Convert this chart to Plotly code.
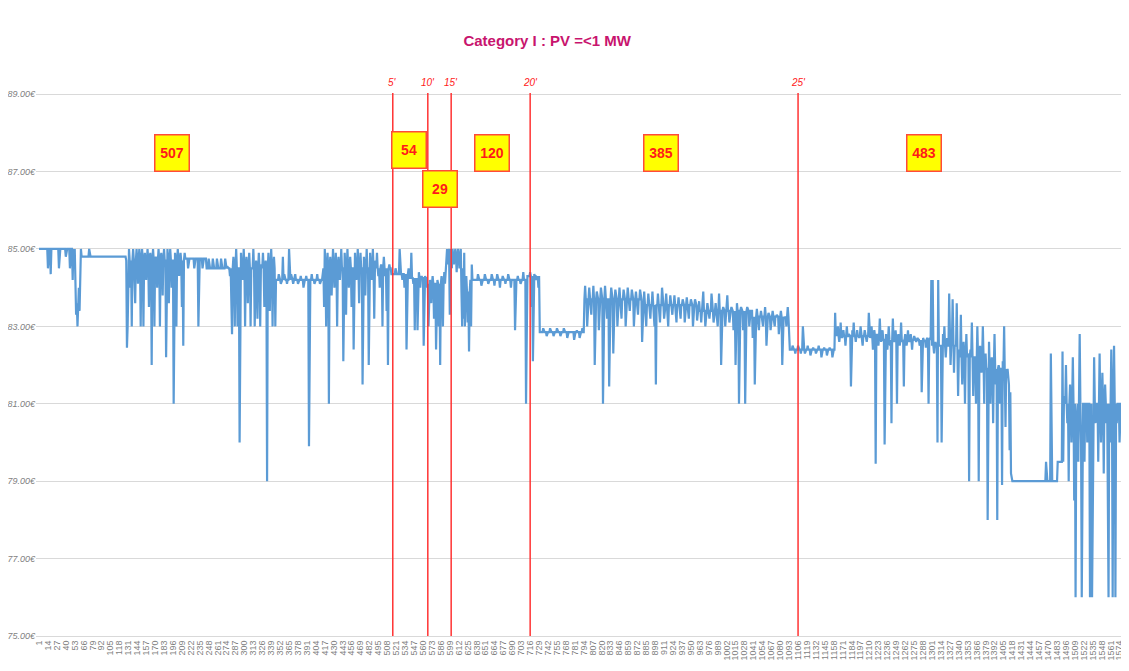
import plotly.graph_objects as go

# ── Data ────────────────────────────────────────────────────
N_POINTS = 1578

# flat levels of the price curve: (first index, level)
BASE_START = [1, 63, 128, 213, 245, 279, 346, 414, 514, 540, 566, 594, 616, 632,
              712, 730, 795, 880, 960, 1040, 1093, 1160, 1230, 1300, 1340, 1380,
              1413, 1417, 1484, 1491]
BASE_LEVEL = [85.0, 84.8, 84.7, 84.75, 84.5, 84.5, 84.2, 84.5, 84.35, 84.25, 84.1,
              84.8, 83.9, 84.2, 84.3, 82.85, 83.7, 83.55, 83.4, 83.25, 82.4, 82.75,
              82.65, 82.5, 82.2, 81.9, 81.2, 79.0, 79.5, 81.0]

# single-point deviations from the level: (index, price)
SPIKES_0_5 = [
    (14, 84.5), (18, 84.35), (30, 84.5), (40, 84.8), (46, 84.5), (50, 84.2), (52, 84.6),
    (54, 83.9), (55, 83.3), (56, 83.6), (57, 83.0), (58, 83.5), (59, 84.0), (60, 83.4),
    (61, 84.5), (62, 85.0), (74, 85.0),
    (129, 82.45), (130, 83.0), (132, 85.0), (134, 84.0), (136, 83.0), (138, 85.0),
    (140, 84.2), (141, 83.6), (143, 85.0), (145, 84.1), (147, 85.0), (149, 83.0),
    (151, 85.0), (153, 83.0), (155, 84.9), (157, 84.2), (159, 85.0), (161, 83.5),
    (163, 84.9), (165, 82.0), (167, 85.0), (169, 83.0), (171, 84.8), (173, 84.0),
    (175, 85.0), (177, 83.0), (179, 84.9), (181, 83.8), (183, 85.0), (186, 82.2),
    (188, 85.0), (190, 83.6), (192, 85.0), (194, 84.0), (197, 81.0), (199, 84.9),
    (201, 83.0), (203, 85.0), (205, 84.3), (207, 84.9), (209, 83.5), (211, 82.5),
    (213, 84.9),
    (215, 84.75), (218, 84.5), (221, 84.75), (224, 84.75), (227, 84.5), (230, 84.75),
    (233, 83.0), (236, 84.75), (239, 84.5), (242, 84.75), (245, 84.5), (248, 84.75),
    (251, 84.5), (254, 84.75), (257, 84.5), (260, 84.75), (263, 84.5), (266, 84.75),
    (269, 84.5), (272, 84.75), (275, 84.55),
    (279, 84.3), (281, 83.0), (282, 82.8), (284, 84.8), (286, 83.0), (288, 85.0),
    (290, 83.0), (292, 84.5), (293, 80.0), (295, 84.9), (297, 84.2), (299, 85.0),
    (301, 83.0), (303, 84.8), (305, 83.6), (307, 84.9), (309, 83.0), (311, 84.5),
    (313, 85.0), (315, 83.0), (317, 84.7), (319, 83.2), (321, 84.9), (323, 83.0),
    (325, 84.6), (327, 84.9), (329, 83.5), (331, 84.7), (333, 79.0), (335, 84.9),
    (337, 83.4), (339, 85.0), (341, 83.0), (343, 84.8), (345, 83.0),
    (350, 84.35), (353, 84.1), (356, 84.8), (358, 84.35), (362, 84.1), (365, 85.0),
    (368, 84.35), (371, 84.1), (374, 84.35), (378, 84.1), (382, 84.3), (386, 84.0),
    (390, 84.3), (394, 79.9), (398, 84.35), (402, 84.1), (406, 84.35), (410, 84.1),
    (414, 84.4), (416, 83.5), (417, 85.0), (419, 83.0), (421, 84.9), (423, 81.0),
    (425, 84.8), (427, 83.8), (429, 85.0), (431, 84.0), (433, 84.9), (435, 83.0),
    (437, 84.8), (439, 84.2), (441, 85.0), (444, 82.1), (446, 84.9), (448, 83.3),
    (450, 85.0), (452, 84.0), (454, 84.8), (456, 83.5), (459, 82.4), (461, 84.9),
    (463, 84.2), (465, 85.0), (467, 83.6), (469, 84.9), (472, 81.5), (474, 84.8),
    (476, 83.8), (478, 85.0), (481, 82.0), (483, 84.9), (485, 84.2), (487, 85.0),
    (489, 83.2), (491, 84.7), (493, 84.9), (495, 84.3), (497, 84.0), (499, 84.6),
    (501, 83.0), (503, 84.8), (505, 84.3), (507, 83.4), (509, 82.0), (511, 84.6),
]
SPIKES_5_10 = [
    (520, 84.5), (526, 85.0), (530, 84.2), (533, 84.0), (536, 82.4), (539, 84.5),
    (543, 84.9), (546, 84.1), (548, 82.9), (550, 83.8), (552, 82.9), (554, 84.4),
    (556, 84.0), (558, 84.3), (561, 82.5), (563, 84.3),
]
SPIKES_10_15 = [
    (566, 84.0), (568, 83.0), (570, 84.2), (572, 83.6), (574, 84.3), (576, 83.2),
    (579, 82.4), (581, 84.2), (583, 83.0), (585, 82.0), (587, 84.3), (589, 83.0),
    (591, 84.4), (593, 84.5), (595, 85.0), (596, 84.6), (597, 85.0), (599, 83.3),
]
SPIKES_15_20 = [
    (600, 85.0), (602, 84.5), (603, 85.0), (605, 84.6), (607, 85.0), (609, 84.4),
    (611, 85.0), (613, 84.5), (615, 85.0), (617, 83.0), (618, 84.5), (619, 83.2),
    (620, 84.9), (621, 83.0), (623, 84.3), (625, 83.1), (627, 82.35), (629, 84.2),
    (630, 83.0), (631, 84.6),
    (640, 84.35), (645, 84.05), (650, 84.35), (655, 84.1), (660, 84.35), (664, 84.05),
    (668, 84.35), (672, 84.0), (676, 84.3), (680, 84.1), (684, 84.35), (688, 84.0),
    (694, 82.9), (698, 84.3), (702, 84.1), (706, 84.4), (710, 81.0),
]
SPIKES_20_25 = [
    (716, 84.4), (718, 83.5), (720, 82.1), (722, 84.35), (725, 84.2), (728, 84.0),
    (735, 82.95), (740, 82.75), (745, 82.95), (750, 82.75), (755, 82.95), (760, 82.75),
    (765, 82.95), (770, 82.7), (775, 82.85), (780, 82.65), (784, 82.9), (788, 82.7),
    (792, 82.95),
    (796, 84.05), (799, 83.0), (802, 84.0), (805, 83.3), (808, 84.05), (810, 82.0),
    (813, 83.9), (816, 82.9), (819, 84.0), (822, 81.0), (825, 84.05), (828, 83.2),
    (831, 81.45), (834, 84.0), (837, 82.3), (840, 83.95), (843, 83.0), (846, 84.0),
    (849, 83.2), (852, 83.95), (855, 83.0), (858, 84.0), (861, 83.4), (864, 83.95),
    (867, 83.0), (870, 83.9), (873, 83.3), (876, 83.95), (879, 82.6), (882, 83.9),
    (885, 83.0), (888, 83.85), (891, 83.2), (894, 83.9), (897, 83.0), (899, 81.5),
    (902, 83.85), (905, 83.1), (908, 84.0), (911, 83.2), (914, 83.85), (917, 83.0),
    (920, 83.8), (923, 83.3), (926, 83.8), (929, 83.1), (932, 83.75), (935, 83.2),
    (938, 83.7), (941, 83.1), (944, 83.75), (947, 83.2), (950, 83.7), (953, 83.0),
    (956, 83.7), (959, 83.15), (962, 83.65), (965, 83.1), (968, 83.9), (971, 83.0),
    (974, 83.6), (977, 83.2), (980, 83.85), (983, 83.1), (986, 83.6), (989, 83.0),
    (991, 83.85), (994, 82.0), (997, 83.5), (1000, 83.0), (1003, 83.8), (1006, 83.1),
    (1009, 83.5), (1012, 82.9), (1015, 82.0), (1017, 83.6), (1020, 81.0), (1023, 83.5),
    (1026, 82.9), (1029, 81.0), (1032, 83.5), (1035, 83.0), (1038, 83.4), (1040, 82.7),
    (1043, 81.5), (1046, 83.45), (1049, 82.9), (1052, 83.4), (1055, 83.0), (1058, 83.5),
    (1060, 82.5), (1063, 83.35), (1066, 82.9), (1069, 83.4), (1072, 83.0), (1075, 83.3),
    (1078, 82.8), (1081, 83.4), (1083, 82.0), (1086, 83.2), (1089, 83.0), (1091, 83.5),
    (1098, 82.5), (1102, 82.3),
]
SPIKES_25_END = [
    (1106, 82.5), (1110, 82.3), (1113, 83.0), (1116, 82.3), (1120, 82.5), (1124, 82.25),
    (1128, 82.45), (1132, 82.3), (1136, 82.5), (1140, 82.2), (1144, 82.45), (1148, 82.25),
    (1152, 82.45), (1156, 82.2),
    (1160, 83.35), (1162, 82.9), (1164, 83.0), (1166, 82.6), (1168, 83.1), (1170, 82.7),
    (1172, 82.9), (1175, 82.5), (1177, 83.0), (1180, 82.8), (1183, 81.45), (1185, 82.9),
    (1187, 83.1), (1190, 82.6), (1192, 82.9), (1195, 82.7), (1197, 83.0), (1200, 82.5),
    (1203, 82.9), (1206, 82.6), (1209, 83.35), (1211, 82.7), (1213, 83.0), (1215, 82.4),
    (1217, 82.9), (1219, 79.45), (1221, 82.8), (1223, 82.5), (1225, 83.2), (1227, 82.6),
    (1229, 82.9), (1232, 79.95), (1234, 82.8), (1236, 82.4), (1238, 83.0), (1240, 82.5),
    (1242, 80.5), (1244, 83.2), (1246, 82.6), (1248, 82.9), (1250, 81.0), (1252, 82.8),
    (1254, 82.5), (1256, 83.1), (1258, 82.6), (1260, 81.45), (1262, 82.8), (1264, 82.5),
    (1266, 82.9), (1268, 82.6), (1270, 82.8), (1272, 82.4), (1275, 82.75), (1278, 82.6),
    (1280, 82.7), (1283, 82.5), (1286, 81.3), (1288, 82.7), (1290, 82.6), (1292, 82.45),
    (1294, 82.7), (1296, 81.0), (1298, 82.7),
    (1300, 84.2), (1301, 82.5), (1302, 84.2), (1304, 82.3), (1306, 82.6), (1309, 80.0),
    (1310, 84.2), (1312, 82.5), (1315, 80.0), (1317, 82.8), (1319, 83.0), (1321, 82.2),
    (1323, 82.7), (1326, 83.85), (1328, 82.0), (1330, 82.6), (1331, 83.7), (1333, 81.8),
    (1335, 82.5), (1337, 83.6), (1339, 81.2), (1341, 82.4), (1343, 83.3), (1345, 81.5),
    (1347, 82.6), (1349, 81.0), (1351, 82.8), (1353, 82.3), (1355, 79.0), (1357, 82.4),
    (1359, 83.1), (1361, 81.2), (1363, 82.2), (1365, 81.0), (1367, 83.0), (1369, 79.0),
    (1371, 82.5), (1373, 81.8), (1375, 83.0), (1377, 81.0), (1379, 82.3), (1382, 78.0),
    (1384, 82.6), (1386, 81.0), (1388, 82.2), (1390, 80.5), (1392, 82.8), (1394, 81.5),
    (1396, 78.0), (1398, 82.0), (1400, 81.0), (1403, 78.9), (1404, 82.1), (1406, 83.0),
    (1408, 80.4), (1410, 81.8), (1412, 81.5),
    (1413, 81.5), (1414, 79.8), (1415, 81.3), (1416, 79.2),
    (1467, 79.5), (1474, 82.3), (1475, 79.0), (1491, 82.35),
    (1492, 79.5), (1494, 81.2), (1496, 82.0), (1498, 80.5), (1500, 79.0), (1502, 81.5),
    (1504, 80.0), (1506, 82.2), (1508, 78.5), (1510, 76.0), (1511, 80.5), (1512, 81.0),
    (1514, 79.5), (1516, 82.8), (1518, 80.0), (1519, 76.0), (1521, 81.0), (1523, 79.5),
    (1525, 81.0), (1527, 80.0), (1529, 81.0), (1531, 76.0), (1532, 80.0), (1534, 76.0),
    (1535, 79.0), (1537, 82.2), (1539, 80.5), (1541, 81.0), (1543, 79.5), (1545, 82.3),
    (1547, 80.0), (1549, 81.8), (1551, 79.2), (1553, 81.5), (1555, 80.5), (1557, 78.2),
    (1558, 76.0), (1560, 80.0), (1562, 82.4), (1564, 76.0), (1566, 82.5), (1568, 76.0),
    (1570, 80.5), (1572, 81.0), (1574, 80.0), (1576, 81.0), (1578, 81.0),
]

# stage markers (vertical lines) and the number of offers in each stage
STAGE_AT = [516, 567, 601, 716, 1106]
STAGE_LABELS = ["5'", "10'", "15'", "20'", "25'"]
COUNT_LABELS = ["507", "54", "29", "120", "385", "483"]

Y_TICKS = [75, 77, 79, 81, 83, 85, 87, 89]
Y_TICK_TEXT = [f"{v:.2f}€" for v in Y_TICKS]
X_TICKS = list(range(1, 1575, 13))

# ── Build series ────────────────────────────────────────────
x = list(range(1, N_POINTS + 1))
y = []
for i in x:
    lvl = BASE_LEVEL[0]
    for s, v in zip(BASE_START, BASE_LEVEL):
        if i >= s:
            lvl = v
    y.append(lvl)
for group in (SPIKES_0_5, SPIKES_5_10, SPIKES_10_15, SPIKES_15_20, SPIKES_20_25, SPIKES_25_END):
    for idx, val in group:
        y[idx - 1] = val

FONT = 'Liberation Sans, Arial, sans-serif'

fig = go.Figure()
fig.add_trace(go.Scatter(
    x=x, y=y, mode='lines',
    line=dict(color='#5B9BD5', width=2.2),
    hoverinfo='skip', showlegend=False
))

# stage lines with labels
for pos, lab in zip(STAGE_AT, STAGE_LABELS):
    fig.add_shape(type='line', xref='x', yref='paper', x0=pos, x1=pos, y0=0, y1=1,
                  line=dict(color='#FF3333', width=1.5))
    fig.add_annotation(x=pos, y=1, xref='x', yref='paper', yanchor='bottom', yshift=3,
                       text=lab, showarrow=False,
                       font=dict(family=FONT, size=10, color='#FF2020', style='italic'))

# yellow count boxes
box_pos = [(194, 87.47), (540, 87.57), (585, 86.54), (661, 87.49), (907, 87.47), (1290, 87.47)]
for (bx, by), lab in zip(box_pos, COUNT_LABELS):
    fig.add_annotation(x=bx, y=by, xref='x', yref='y', text=f"<b>{lab}</b>", showarrow=False,
                       width=31, height=33, bgcolor='#FFFF00', bordercolor='#FF4A3A',
                       borderwidth=1.5, borderpad=1,
                       font=dict(family=FONT, size=14, color='#FF1A1A'))

# the page adds an 8px body margin, so the figure is 8px smaller than the window
fig.update_layout(
    width=1121, height=663,
    margin=dict(l=28, r=5, t=85, b=35),
    paper_bgcolor='white', plot_bgcolor='white',
    title=dict(text='<b>Category I : PV =<1 MW</b>', x=0.481, xanchor='center',
               y=1 - 33 / 663, yanchor='middle', yref='container',
               font=dict(family=FONT, size=15, color='#C8146E')),
    xaxis=dict(range=[-3.4, 1580.5], tickvals=X_TICKS, ticktext=[str(t) for t in X_TICKS],
               tickangle=-90, showgrid=False, zeroline=False, ticks='', automargin=False,
               showline=True, linecolor='#D9D9D9', linewidth=1,
               tickfont=dict(family=FONT, size=9, color='#7F7F7F')),
    yaxis=dict(range=[75, 89.03], tickvals=Y_TICKS, ticktext=Y_TICK_TEXT, automargin=False,
               showgrid=True, gridcolor='#D9D9D9', gridwidth=1, zeroline=False, ticks='',
               tickfont=dict(family=FONT, size=9, color='#7F7F7F', style='italic')),
)

fig.write_html("out.html")
